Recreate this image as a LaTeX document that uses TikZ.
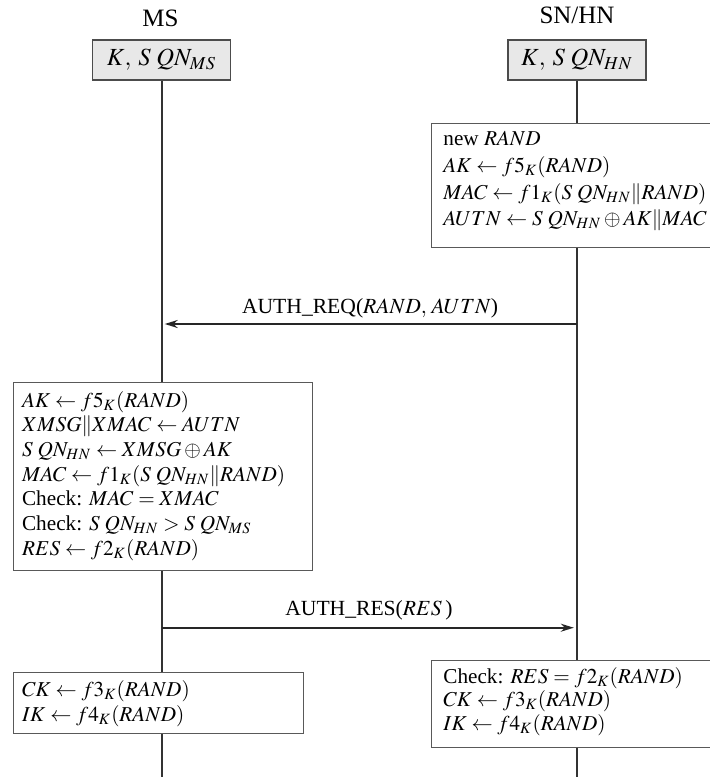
\documentclass[tikz,border=0pt]{standalone}
\usepackage{mathptmx}
\usepackage{fontspec}
\setmainfont{Liberation Serif}
\usetikzlibrary{arrows.meta}
\newcommand\bodyfont{\fontsize{10.6}{12}\selectfont}
\newcommand\msgfont{\fontsize{10.8}{12}\selectfont}
\newcommand\headfont{\fontsize{12.5}{14}\selectfont}
\newcommand\hdrfont{\fontsize{12.3}{14}\selectfont}
\newcommand\SQN{S\mkern4mu QN}
\begin{document}
\begin{tikzpicture}[x=0.5pt,y=-0.5pt,
  life/.style={line width=1pt, draw=black!80},
  hdr/.style={draw=black!70, line width=0.6pt, fill=black!9, minimum width=69pt, minimum height=20pt, inner sep=0pt, font=\hdrfont},
  proc/.style={draw=black!65, line width=0.5pt, fill=white, anchor=north west, inner sep=0pt},
  txt/.style={anchor=base west, inner sep=0pt, font=\bodyfont},
  lbl/.style={anchor=base, inner sep=0pt, font=\msgfont},
  msg/.style={line width=1pt, draw=black!85, -{Stealth[length=6.5pt,width=4pt]}}]
\useasboundingbox (0,0) rectangle (710,781);
% headers
\node[lbl, font=\headfont] (msname) at (160.5,27) {MS};
\node[lbl, font=\headfont] (hnname) at (577,24) {SN/HN};
\node[hdr] (mshdr) at (161.5,60) {$K,\mkern3mu \SQN_{MS}$};
\node[hdr] (hnhdr) at (577,60) {$K,\mkern3mu \SQN_{HN}$};
% lifelines
\coordinate (msend) at (161.5,777);
\coordinate (hnend) at (577,777);
\draw[life] (mshdr.south) -- (msend);
\draw[life] (hnhdr.south) -- (hnend);
% HN processing
\node[proc, minimum width=146pt, minimum height=62pt] (hnproc) at (431,123) {};
\node[txt] (hn1) at (443,146) {new $RAND$};
\node[txt] (hn2) at (443,172.5) {$AK \leftarrow f5_K(RAND)$};
\node[txt] (hn3) at (443,199) {$MAC \leftarrow f1_K(\SQN_{HN}\|RAND)$};
\node[txt] (hn4) at (443,225.5) {$AUTN \leftarrow \SQN_{HN}\oplus AK\|MAC$};
% AUTH_REQ
\coordinate (reqA) at (577,324);
\coordinate (reqB) at (161.5,324);
\draw[msg, shorten >=1.6pt] (reqA) -- (reqB);
\node[lbl] (reqlbl) at (370,313) {AUTH\_REQ($RAND,\mkern2mu AUTN$)};
% MS processing
\node[proc, minimum width=149.75pt, minimum height=94pt] (msproc) at (12.5,382) {};
\node[txt] (ms1) at (21.7,407) {$AK \leftarrow f5_K(RAND)$};
\node[txt] (ms2) at (21.7,431.7) {$XMSG\|XMAC \leftarrow AUTN$};
\node[txt] (ms3) at (21.7,456.4) {$\SQN_{HN} \leftarrow XMSG \oplus AK$};
\node[txt] (ms4) at (21.7,481.1) {$MAC \leftarrow f1_K(\SQN_{HN}\|RAND)$};
\node[txt] (ms5) at (21.7,505.8) {Check: $MAC = XMAC$};
\node[txt] (ms6) at (21.7,530.5) {Check: $\SQN_{HN} > \SQN_{MS}$};
\node[txt] (ms7) at (21.7,555.2) {$RES \leftarrow f2_K(RAND)$};
% AUTH_RES
\coordinate (resA) at (161.5,627.7);
\coordinate (resB) at (577,627.7);
\draw[msg, shorten >=1.6pt] (resA) -- (resB);
\node[lbl] (reslbl) at (369,615) {AUTH\_RES($RES\mkern3mu$)};
% final MS
\node[proc, minimum width=145.25pt, minimum height=30.5pt] (msfin) at (12.5,672) {};
\node[txt] (mf1) at (21.7,696) {$CK \leftarrow f3_K(RAND)$};
\node[txt] (mf2) at (21.7,721) {$IK \leftarrow f4_K(RAND)$};
% final HN
\node[proc, minimum width=146pt, minimum height=43.5pt] (hnfin) at (431,660) {};
\node[txt] (hf1) at (443,683) {Check: $RES = f2_K(RAND)$};
\node[txt] (hf2) at (443,706.5) {$CK \leftarrow f3_K(RAND)$};
\node[txt] (hf3) at (443,730) {$IK \leftarrow f4_K(RAND)$};
\end{tikzpicture}
\end{document}
